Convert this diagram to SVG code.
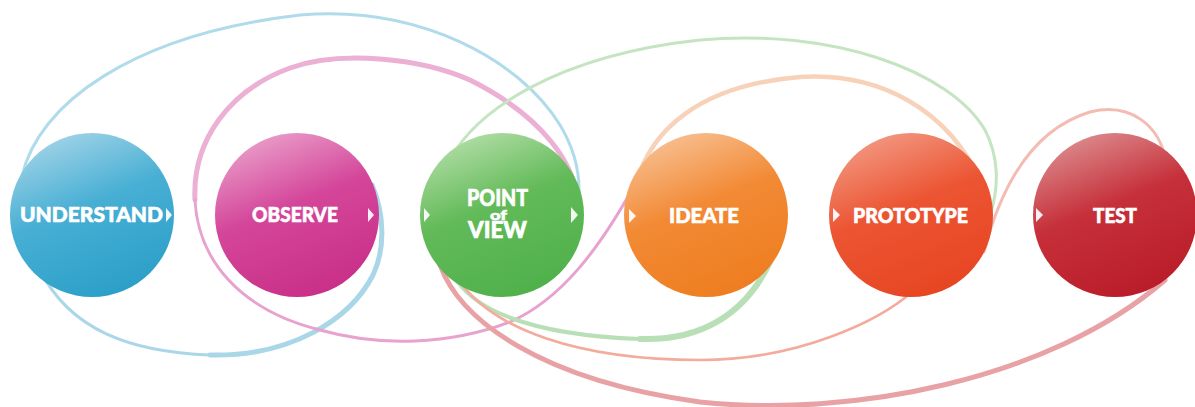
<svg xmlns="http://www.w3.org/2000/svg" width="1195" height="407" viewBox="0 0 1195 407">
<defs>
<linearGradient id="gU" x1="0.25" y1="0" x2="0.65" y2="1"><stop offset="0" stop-color="#a3d4e8"/><stop offset="0.45" stop-color="#48afd4"/><stop offset="1" stop-color="#2b9fc8"/></linearGradient>
<linearGradient id="gO" x1="0.25" y1="0" x2="0.65" y2="1"><stop offset="0" stop-color="#eaa0cb"/><stop offset="0.45" stop-color="#d4469a"/><stop offset="1" stop-color="#c92f88"/></linearGradient>
<linearGradient id="gP" x1="0.25" y1="0" x2="0.65" y2="1"><stop offset="0" stop-color="#b4dea8"/><stop offset="0.45" stop-color="#62ba58"/><stop offset="1" stop-color="#4fb14b"/></linearGradient>
<linearGradient id="gI" x1="0.25" y1="0" x2="0.65" y2="1"><stop offset="0" stop-color="#f8c194"/><stop offset="0.45" stop-color="#f28a35"/><stop offset="1" stop-color="#ee7d1f"/></linearGradient>
<linearGradient id="gR" x1="0.25" y1="0" x2="0.65" y2="1"><stop offset="0" stop-color="#f29a84"/><stop offset="0.45" stop-color="#ec5533"/><stop offset="1" stop-color="#e74522"/></linearGradient>
<linearGradient id="gT" x1="0.25" y1="0" x2="0.65" y2="1"><stop offset="0" stop-color="#dc8e90"/><stop offset="0.45" stop-color="#c6303a"/><stop offset="1" stop-color="#b91c28"/></linearGradient>
</defs>
<style>
.c{fill:none;stroke-linecap:round}
.t{font-family:Lato,"Liberation Sans",sans-serif;font-weight:900;fill:#ffffff;stroke:#ffffff;stroke-width:0.6}
.a{fill:#ffffff;opacity:0.92}
</style>
<rect width="1195" height="407" fill="#ffffff"/>
<g id="connectors">
<path class="c" d="M22,176 C38,105 130,35 300,15 C420,5 520,60 560,125 C575,150 582,175 578,205" stroke="#b0dbea" stroke-width="3"/>
<path class="c" d="M40,270 C70,330 130,352 210,355" stroke="#a9d7e8" stroke-width="3"/>
<path class="c" d="M210,355 C290,357 350,320 373,275 C385,250 385,215 372,185" stroke="#a9d7e8" stroke-width="5"/>
<path class="c" d="M577,210 C580,165 540,115 470,80 C420,58 340,50 290,68 C230,90 192,140 195,200" stroke="#ebb0d4" stroke-width="5"/>
<path class="c" d="M195,200 C198,260 240,310 320,330 C380,347 450,345 510,322 C560,300 600,250 640,175" stroke="#e7a2cd" stroke-width="3"/>
<path class="c" d="M445,170 C470,110 560,55 700,40 C830,28 950,70 985,130 C998,155 1000,185 990,215" stroke="#c4e4c2" stroke-width="3"/>
<path class="c" d="M452,272 C470,310 530,335 640,339" stroke="#b8dfb6" stroke-width="4"/>
<path class="c" d="M640,339 C700,341 745,315 770,262" stroke="#b8dfb6" stroke-width="6"/>
<path class="c" d="M636,185 C650,130 700,85 800,77 C880,72 950,110 982,185" stroke="#f8d2b8" stroke-width="4.5"/>
<path class="c" d="M456,276 C490,330 580,360 700,360 C800,360 880,320 912,292" stroke="#f3ab9c" stroke-width="2.5"/>
<path class="c" d="M440,265 C460,320 540,380 700,402 C850,418 1050,380 1165,280" stroke="#e8a2a6" stroke-width="5"/>
<path class="c" d="M984,252 C1000,190 1030,130 1090,112 C1130,102 1160,125 1166,162" stroke="#f3bcb2" stroke-width="3"/>
</g>
<g id="understand">
<circle cx="92" cy="215" r="82" fill="url(#gU)"/>
<text class="t" x="20" y="222" font-size="21" textLength="143" lengthAdjust="spacingAndGlyphs">UNDERSTAND</text>
<polygon class="a" points="166,208 172,215 166,222"/>
</g>
<g id="observe">
<circle cx="297" cy="215" r="82" fill="url(#gO)"/>
<text class="t" x="252" y="222" font-size="21" textLength="86" lengthAdjust="spacingAndGlyphs">OBSERVE</text>
<polygon class="a" points="368,208 374,215 368,222"/>
</g>
<g id="point-of-view">
<circle cx="502" cy="215" r="82" fill="url(#gP)"/>
<text class="t" x="467" y="206" font-size="22" textLength="61" lengthAdjust="spacingAndGlyphs">POINT</text>
<text class="t" x="490" y="220" font-size="14" textLength="17" lengthAdjust="spacingAndGlyphs">of</text>
<text class="t" x="468" y="238" font-size="22" textLength="59" lengthAdjust="spacingAndGlyphs">VIEW</text>
<polygon class="a" points="424,208 430,215 424,222"/>
<polygon class="a" points="571,207 578,215 571,223"/>
</g>
<g id="ideate">
<circle cx="706" cy="215" r="82" fill="url(#gI)"/>
<text class="t" x="669" y="223" font-size="21" textLength="70" lengthAdjust="spacingAndGlyphs">IDEATE</text>
<polygon class="a" points="629,209 636,216 629,223"/>
</g>
<g id="prototype">
<circle cx="911" cy="215" r="82" fill="url(#gR)"/>
<text class="t" x="853" y="223" font-size="21" textLength="115" lengthAdjust="spacingAndGlyphs">PROTOTYPE</text>
<polygon class="a" points="833,208 840,215 833,222"/>
</g>
<g id="test">
<circle cx="1115" cy="215" r="82" fill="url(#gT)"/>
<text class="t" x="1093" y="223" font-size="21" textLength="44" lengthAdjust="spacingAndGlyphs">TEST</text>
<polygon class="a" points="1036,208 1043,215 1036,222"/>
</g>
</svg>
